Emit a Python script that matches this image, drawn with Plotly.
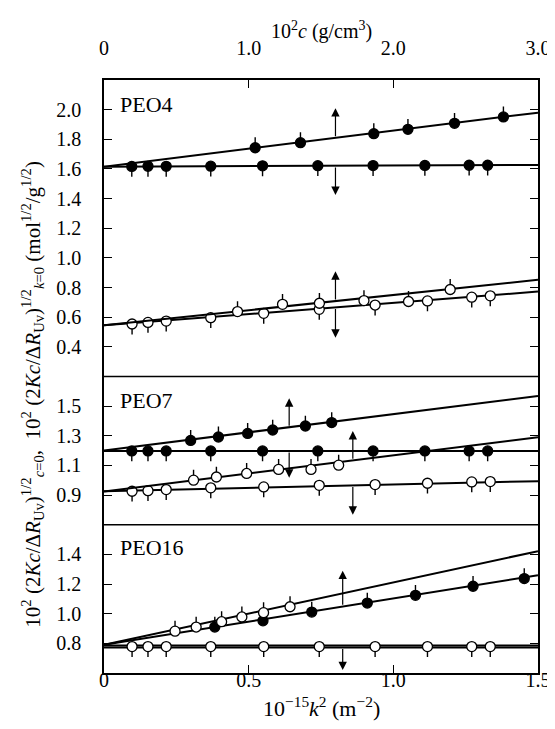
import plotly.graph_objects as go

# ---------------- data ----------------
# scattering vector values, 10^-15 k^2 (m^-2)
K2_FILLED = [0.096, 0.152, 0.215, 0.369, 0.548, 0.739, 0.930, 1.109, 1.262, 1.326]
K2_OPEN = [0.097, 0.152, 0.215, 0.369, 0.552, 0.744, 0.937, 1.118, 1.271, 1.335]

# PEO4
PEO4_FILLED_K_Y = [1.617, 1.618, 1.618, 1.619, 1.621, 1.622, 1.623, 1.624, 1.625, 1.625]
PEO4_FILLED_C = [1.045, 1.358, 1.865, 2.101, 2.423, 2.761]
PEO4_FILLED_C_Y = [1.743, 1.777, 1.838, 1.867, 1.908, 1.951]
PEO4_OPEN_K_Y = [0.554, 0.565, 0.574, 0.597, 0.626, 0.653, 0.682, 0.710, 0.735, 0.744]
PEO4_OPEN_C = [0.923, 1.234, 1.489, 1.797, 2.105, 2.393]
PEO4_OPEN_C_Y = [0.638, 0.687, 0.694, 0.712, 0.706, 0.787]

# PEO7
PEO7_FILLED_K_Y = [1.198, 1.198, 1.198, 1.198, 1.198, 1.198, 1.198, 1.198, 1.198, 1.198]
PEO7_FILLED_C = [0.599, 0.791, 0.993, 1.166, 1.392, 1.574]
PEO7_FILLED_C_Y = [1.269, 1.292, 1.316, 1.339, 1.366, 1.389]
PEO7_OPEN_K_Y = [0.926, 0.930, 0.937, 0.949, 0.955, 0.966, 0.971, 0.980, 0.989, 0.991]
PEO7_OPEN_C = [0.619, 0.777, 0.986, 1.207, 1.431, 1.622]
PEO7_OPEN_C_Y = [1.001, 1.022, 1.046, 1.073, 1.073, 1.102]

# PEO16
PEO16_OPEN_K_Y = [0.778, 0.778, 0.778, 0.778, 0.778, 0.778, 0.778, 0.778, 0.778, 0.778]
PEO16_OPEN_C = [0.491, 0.637, 0.813, 0.953, 1.103, 1.286]
PEO16_OPEN_C_Y = [0.882, 0.910, 0.946, 0.978, 1.007, 1.047]
PEO16_FILLED_C = [0.766, 1.099, 1.436, 1.820, 2.153, 2.551, 2.905]
PEO16_FILLED_C_Y = [0.910, 0.952, 1.011, 1.072, 1.124, 1.185, 1.237]

# fitted straight lines: (axis, y endpoints, panel)
K2_ENDS = [0.0, 1.5]
C_ENDS = [0.0, 3.0]
FIT_LINES = [
    ("k", [1.615, 1.627], "y"),
    ("c", [1.615, 1.980], "y"),
    ("k", [0.545, 0.773], "y"),
    ("c", [0.545, 0.852], "y"),
    ("k", [1.198, 1.198], "y2"),
    ("c", [1.201, 1.569], "y2"),
    ("k", [0.926, 0.994], "y2"),
    ("c", [0.925, 1.290], "y2"),
    ("k", [0.786, 0.786], "y3"),
    ("k", [0.772, 0.772], "y3"),
    ("c", [0.790, 1.422], "y3"),
    ("c", [0.790, 1.260], "y3"),
]

ERR = 0.07  # half error-bar length

# arrows: (k2 position, tail y, tip y, panel)
ARROWS = [
    (0.80, 1.81, 2.01, "y"), (0.80, 1.62, 1.425, "y"),
    (0.80, 0.71, 0.91, "y"), (0.80, 0.665, 0.462, "y"),
    (0.64, 1.357, 1.553, "y2"), (0.64, 1.198, 1.017, "y2"),
    (0.86, 1.135, 1.332, "y2"), (0.86, 0.965, 0.768, "y2"),
    (0.825, 1.05, 1.29, "y3"), (0.825, 0.772, 0.62, "y3"),
]

PANEL_NAMES = ["PEO4", "PEO7", "PEO16"]
PANEL_LABEL_Y = [0.9595, 0.4595, 0.2108]

Y1_TICKS = [0.4, 0.6, 0.8, 1.0, 1.2, 1.4, 1.6, 1.8, 2.0]
Y2_TICKS = [0.9, 1.1, 1.3, 1.5]
Y3_TICKS = [0.8, 1.0, 1.2, 1.4]
XK_TICKS = [0, 0.5, 1.0, 1.5]
XK_LABELS = ["0", "0.5", "1.0", "1.5"]
XC_TICKS = [0, 1, 2, 3]
XC_LABELS = ["0", "1.0", "2.0", "3.0"]

FONT = "Liberation Serif, Times New Roman, serif"
FS = 20
PAD = "\u00a0"  # keeps y tick labels a little away from the frame

fig = go.Figure()

# lines
for kind, ys, ya in FIT_LINES:
    fig.add_trace(go.Scatter(
        x=K2_ENDS if kind == "k" else C_ENDS, y=ys,
        xaxis="x" if kind == "k" else "x2", yaxis=ya,
        mode="lines", line=dict(color="black", width=2), hoverinfo="skip"))


def points(x, y, xa, ya, filled, up):
    n = len(x)
    return go.Scatter(
        x=x, y=y, xaxis=xa, yaxis=ya, mode="markers",
        marker=dict(size=10, color="black" if filled else "white",
                    line=dict(color="black", width=1.3)),
        error_y=dict(type="data", symmetric=False,
                     array=[ERR] * n if up else [0] * n,
                     arrayminus=[0] * n if up else [ERR] * n,
                     color="black", thickness=1.4, width=0),
        cliponaxis=False)


fig.add_trace(points(K2_FILLED, PEO4_FILLED_K_Y, "x", "y", True, False))
fig.add_trace(points(PEO4_FILLED_C, PEO4_FILLED_C_Y, "x2", "y", True, True))
fig.add_trace(points(K2_OPEN, PEO4_OPEN_K_Y, "x", "y", False, False))
fig.add_trace(points(PEO4_OPEN_C, PEO4_OPEN_C_Y, "x2", "y", False, True))

fig.add_trace(points(K2_FILLED, PEO7_FILLED_K_Y, "x", "y2", True, False))
fig.add_trace(points(PEO7_FILLED_C, PEO7_FILLED_C_Y, "x2", "y2", True, True))
fig.add_trace(points(K2_OPEN, PEO7_OPEN_K_Y, "x", "y2", False, False))
fig.add_trace(points(PEO7_OPEN_C, PEO7_OPEN_C_Y, "x2", "y2", False, True))

fig.add_trace(points(PEO16_FILLED_C, PEO16_FILLED_C_Y, "x2", "y3", True, True))
fig.add_trace(points(PEO16_OPEN_C, PEO16_OPEN_C_Y, "x2", "y3", False, True))
fig.add_trace(points(K2_OPEN, PEO16_OPEN_K_Y, "x", "y3", False, False))

annotations = []
for xk, tail, tip, ya in ARROWS:
    annotations.append(dict(
        x=xk, y=tip, ax=xk, ay=tail, xref="x", yref=ya, axref="x", ayref=ya,
        text="", showarrow=True, arrowhead=2, arrowsize=1.4, arrowwidth=1.2,
        arrowcolor="black", standoff=0, startstandoff=0))

for name, py in zip(PANEL_NAMES, PANEL_LABEL_Y):
    annotations.append(dict(x=0.0315, y=py, xref="paper", yref="paper",
                            text=name, showarrow=False, xanchor="left",
                            yanchor="middle", font=dict(size=22)))

annotations.append(dict(
    x=0.5, y=1.083, xref="paper", yref="paper", showarrow=False,
    text="10<sup>2</sup><i>c</i> (g/cm<sup>3</sup>)",
    xanchor="center", yanchor="middle", font=dict(size=20)))
annotations.append(dict(
    x=0.5, y=-0.058, xref="paper", yref="paper", showarrow=False,
    text="10<sup>\u221215</sup><i>k</i><sup>2</sup> (m<sup>\u22122</sup>)",
    xanchor="center", yanchor="middle", font=dict(size=22)))
annotations.append(dict(
    x=-0.165, y=0.47, xref="paper", yref="paper", showarrow=False,
    textangle=-90, xanchor="center", yanchor="middle", font=dict(size=21),
    text=("10<sup>2</sup> (2<i>Kc</i>/\u0394<i>R</i><sub>Uv</sub>)"
          "<sup>1/2</sup><sub><i>c</i>=0</sub>,  10<sup>2</sup> "
          "(2<i>Kc</i>/\u0394<i>R</i><sub>Uv</sub>)<sup>1/2</sup>"
          "<sub><i>k</i>=0</sub> (mol<sup>1/2</sup>/g<sup>1/2</sup>)")))

axis_common = dict(showgrid=False, zeroline=False, showline=True,
                   linecolor="black", linewidth=1.5, ticks="inside",
                   ticklen=8, tickwidth=1.3, tickcolor="black",
                   tickfont=dict(size=FS, family=FONT, color="black"))


def ylabels(vals):
    return [f"{v:.1f}{PAD}" for v in vals]


fig.update_layout(
    width=555, height=729,
    margin=dict(l=96, r=15, t=72, b=64),
    paper_bgcolor="white", plot_bgcolor="white",
    showlegend=False,
    font=dict(family=FONT, size=FS, color="black"),
    xaxis=dict(domain=[0, 1], anchor="y3", range=[0, 1.5],
               tickvals=XK_TICKS, ticktext=XK_LABELS,
               ticklabelstandoff=-12, **axis_common),
    xaxis2=dict(overlaying="x", side="top", anchor="y", range=[0, 3],
                tickvals=XC_TICKS, ticktext=XC_LABELS,
                ticklabelstandoff=15, **axis_common),
    yaxis=dict(domain=[0.5, 1], anchor="x", range=[0.2, 2.2],
               tickvals=Y1_TICKS, ticktext=ylabels(Y1_TICKS),
               mirror="ticks", ticklabelstandoff=12, **axis_common),
    yaxis2=dict(domain=[0.25, 0.5], anchor="x", range=[0.7, 1.7],
                tickvals=Y2_TICKS, ticktext=ylabels(Y2_TICKS),
                mirror="ticks", ticklabelstandoff=12, **axis_common),
    yaxis3=dict(domain=[0, 0.25], anchor="x", range=[0.6, 1.6],
                tickvals=Y3_TICKS, ticktext=ylabels(Y3_TICKS),
                mirror="ticks", ticklabelstandoff=12, **axis_common),
    annotations=annotations,
    shapes=[
        dict(type="line", xref="paper", yref="paper", x0=0, x1=1, y0=0.5, y1=0.5,
             line=dict(color="black", width=1.5)),
        dict(type="line", xref="paper", yref="paper", x0=0, x1=1, y0=0.25, y1=0.25,
             line=dict(color="black", width=1.5)),
    ],
)

fig.write_html("out.html")
